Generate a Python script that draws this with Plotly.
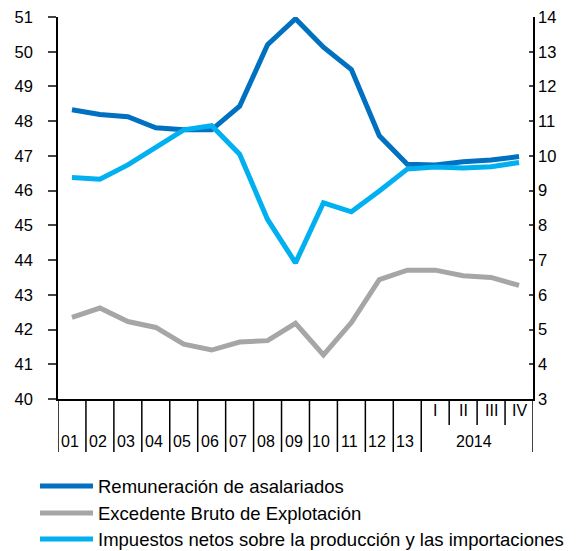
import plotly.graph_objects as go

categories = ["01", "02", "03", "04", "05", "06", "07", "08", "09", "10", "11", "12", "13", "I", "II", "III", "IV"]
year_labels = ["01", "02", "03", "04", "05", "06", "07", "08", "09", "10", "11", "12", "13"]
quarter_labels = ["I", "II", "III", "IV"]
group_label = "2014"

remuneracion = [48.33, 48.19, 48.13, 47.81, 47.75, 47.75, 48.43, 50.2, 50.95,
                50.13, 49.49, 47.58, 46.76, 46.74, 46.83, 46.88, 46.98]
excedente = [42.35, 42.62, 42.23, 42.06, 41.58, 41.41, 41.64, 41.68, 42.18,
             41.27, 42.2, 43.44, 43.71, 43.71, 43.55, 43.5, 43.27]
impuestos = [9.38, 9.33, 9.74, 10.24, 10.75, 10.87, 10.05, 8.17, 6.92,
             8.65, 8.39, 8.99, 9.62, 9.68, 9.65, 9.69, 9.81]

names = ["Remuneración de asalariados", "Excedente Bruto de Explotación",
         "Impuestos netos sobre la producción y las importaciones"]
colors = ["#0070C0", "#A6A6A6", "#00B0F0"]

FONT = "Liberation Sans, Arial, sans-serif"

# the page body has an 8px margin; the figure is sized to fit inside it
OFF = 8
W, H = 577 - OFF, 551 - OFF
L, T = 58 - OFF, 17 - OFF
R = W - (533 - OFF)
B = H - (399 - OFF)
PW, PH = W - L - R, H - T - B


def px_x(p):
    return (p - OFF - L) / PW


def px_y(p):
    return (H - B - (p - OFF)) / PH


fig = go.Figure()
fig.add_trace(go.Scatter(x=categories, y=remuneracion, name=names[0], mode="lines",
                         line=dict(color=colors[0], width=5), yaxis="y"))
fig.add_trace(go.Scatter(x=categories, y=excedente, name=names[1], mode="lines",
                         line=dict(color=colors[1], width=5), yaxis="y"))
fig.add_trace(go.Scatter(x=categories, y=impuestos, name=names[2], mode="lines",
                         line=dict(color=colors[2], width=5), yaxis="y2"))

shapes = []
n = len(categories)
n_years = len(year_labels)
# tick marks below the x axis (long at year boundaries, short between quarters)
for i in range(n + 1):
    b = i - 0.5
    long_tick = (i <= n_years) or (i == n)
    shapes.append(dict(type="line", xref="x", yref="paper", x0=b, x1=b,
                       y0=0, y1=(px_y(452) if long_tick else px_y(425)),
                       line=dict(color="black", width=1.5)))

annotations = []
for i, lab in enumerate(year_labels):
    annotations.append(dict(x=i, y=px_y(441), xref="x", yref="paper", text=lab,
                            showarrow=False, xshift=-2,
                            font=dict(size=16, color="black", family=FONT),
                            yanchor="middle"))
for j, lab in enumerate(quarter_labels):
    annotations.append(dict(x=n_years + j, y=px_y(410), xref="x", yref="paper", text=lab,
                            showarrow=False, font=dict(size=16, color="black", family=FONT),
                            yanchor="middle"))
annotations.append(dict(x=n_years + (len(quarter_labels) - 1) / 2, y=px_y(441), xref="x",
                        yref="paper", text=group_label, showarrow=False, xshift=-3,
                        font=dict(size=16, color="black", family=FONT), yanchor="middle"))

# manual legend
legend_rows = [486, 513, 539]
for name, color, row in zip(names, colors, legend_rows):
    shapes.append(dict(type="line", xref="paper", yref="paper",
                       x0=px_x(40), x1=px_x(93), y0=px_y(row), y1=px_y(row),
                       line=dict(color=color, width=5)))
    annotations.append(dict(x=px_x(96), y=px_y(row), xref="paper", yref="paper",
                            text=name, showarrow=False, xanchor="left", yanchor="middle",
                            font=dict(size=18.5, color="black", family=FONT)))

fig.update_layout(
    width=W, height=H,
    margin=dict(l=L, r=R, t=T, b=B, autoexpand=False),
    paper_bgcolor="white", plot_bgcolor="white",
    font=dict(family=FONT, size=16, color="black"),
    xaxis=dict(type="category", categoryorder="array", categoryarray=categories,
               range=[-0.5, n - 0.5], showticklabels=False, ticks="",
               showline=True, linecolor="black", linewidth=1.5, showgrid=False,
               zeroline=False, fixedrange=True, automargin=False),
    yaxis=dict(range=[40, 51], dtick=1, ticks="outside", ticklen=8, tickwidth=1.5,
               ticklabelstandoff=12, ticklabeloverflow="allow", automargin=False,
               showline=True, linecolor="black", linewidth=1.5, showgrid=False,
               zeroline=False, tickfont=dict(size=16.5)),
    yaxis2=dict(range=[3, 14], dtick=1, overlaying="y", side="right", ticks="inside",
                ticklen=4, tickwidth=1.5, showline=True, linecolor="black", linewidth=1.5,
                ticklabeloverflow="allow", automargin=False,
                showgrid=False, zeroline=False, tickfont=dict(size=16.5)),
    shapes=shapes,
    annotations=annotations,
    showlegend=False,
)

fig.write_html("out.html")
